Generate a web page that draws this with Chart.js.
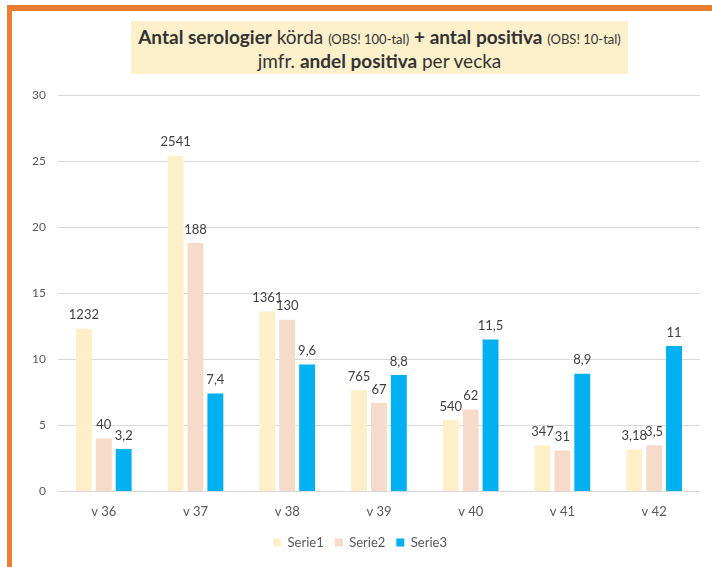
<!DOCTYPE html>
<html lang="sv">
<head>
<meta charset="UTF-8">
<title>Serologier per vecka</title>
<script src="https://cdn.jsdelivr.net/npm/chart.js@4/dist/chart.umd.min.js"></script>
<style>
    body{
        margin: 0;
        background: white;
        font-family: Lato, 'Open Sans', sans-serif;
    }
    .wrap{
        position: relative;
        width: 712px;
        height: 567px;
        overflow: hidden;
    }
    .edgeTop{
        position: absolute;
        left: 7px; top: 5px;
        width: 705px; height: 6px;
        background: #ED7D31;
    }
    .edgeLeft{
        position: absolute;
        left: 7px; top: 5px;
        width: 5px; height: 562px;
        background: #ED7D31;
    }
    canvas{
        position: absolute;
        left: 0; top: 0;
    }
    .title{
        position: absolute;
        left: 131px; top: 21px;
        width: 497px; height: 53px;
        background: #FDF0CB;
        color: #333333;
        text-align: center;
        font-size: 19px;
        line-height: 21px;
        padding-top: 5px;
        box-sizing: border-box;
        white-space: nowrap;
    }
    .title b{ font-weight: bold; }
    .title small{ font-size: 13px; }
</style>
</head>
<body>
<div class="wrap">
    <canvas id="miCanvas" width="712" height="567"></canvas>
    <div class="edgeTop"></div>
    <div class="edgeLeft"></div>
    <div class="title">
        <b>Antal serologier</b> körda <small>(OBS! 100-tal)</small> <b>+ antal positiva</b> <small>(OBS! 10-tal)</small><br>
        jmfr. <b>andel positiva</b> per vecka
    </div>
</div>
<script>
    // veckor
    const weeks = ["v 36", "v 37", "v 38", "v 39", "v 40", "v 41", "v 42"];

    // staplarnas höjd
    const serie1 = [12.32, 25.41, 13.61, 7.65, 5.40, 3.47, 3.18];
    const serie2 = [4.0, 18.8, 13.0, 6.7, 6.2, 3.1, 3.5];
    const serie3 = [3.2, 7.4, 9.6, 8.8, 11.5, 8.9, 11];

    // etiketterna som står i bilden
    const serie1Text = ["1232", "2541", "1361", "765", "540", "347", "3,18"];
    const serie2Text = ["40", "188", "130", "67", "62", "31", "3,5"];
    const serie3Text = ["3,2", "7,4", "9,6", "8,8", "11,5", "8,9", "11"];

    const yTicks = [0, 5, 10, 15, 20, 25, 30];

    const grey = "#595959";

    const barLabels = {
        id: "barLabels",
        afterDatasetsDraw(chart) {
            const ctx = chart.ctx;
            ctx.save();
            ctx.font = "13px Lato, sans-serif";
            ctx.fillStyle = "#404040";
            ctx.textAlign = "center";
            ctx.textBaseline = "bottom";
            chart.data.datasets.forEach((ds, i) => {
                const meta = chart.getDatasetMeta(i);
                meta.data.forEach((bar, j) => {
                    ctx.fillText(ds.texts[j], bar.x, bar.y - 7);
                });
            });
            ctx.restore();
        }
    };

    new Chart(document.getElementById("miCanvas"), {
        type: "bar",
        data: {
            labels: weeks,
            datasets: [
                { label: "Serie1", data: serie1, texts: serie1Text, backgroundColor: "#FDEFC8" },
                { label: "Serie2", data: serie2, texts: serie2Text, backgroundColor: "#F6DBCB" },
                { label: "Serie3", data: serie3, texts: serie3Text, backgroundColor: "#00B0F0" }
            ]
        },
        options: {
            responsive: false,
            animation: false,
            categoryPercentage: 0.65,
            barPercentage: 0.8,
            layout: { padding: { left: 20, right: 12, top: 95, bottom: 8 } },
            plugins: {
                legend: {
                    position: "bottom",
                    labels: { boxWidth: 8, boxHeight: 8, color: grey, font: { size: 13, family: "Lato" }, padding: 11 }
                },
                tooltip: { enabled: false }
            },
            scales: {
                x: {
                    grid: { display: false },
                    border: { display: false },
                    ticks: { color: grey, font: { size: 13, family: "Lato" }, padding: 5 }
                },
                y: {
                    min: 0,
                    max: 30,
                    afterBuildTicks: (axis) => { axis.ticks = yTicks.map(v => ({ value: v })); },
                    grid: { color: "#D9D9D9", drawTicks: false },
                    border: { display: false },
                    ticks: { color: grey, font: { size: 12, family: "Lato" }, padding: 12 }
                }
            }
        },
        plugins: [barLabels]
    });
</script>
</body>
</html>
